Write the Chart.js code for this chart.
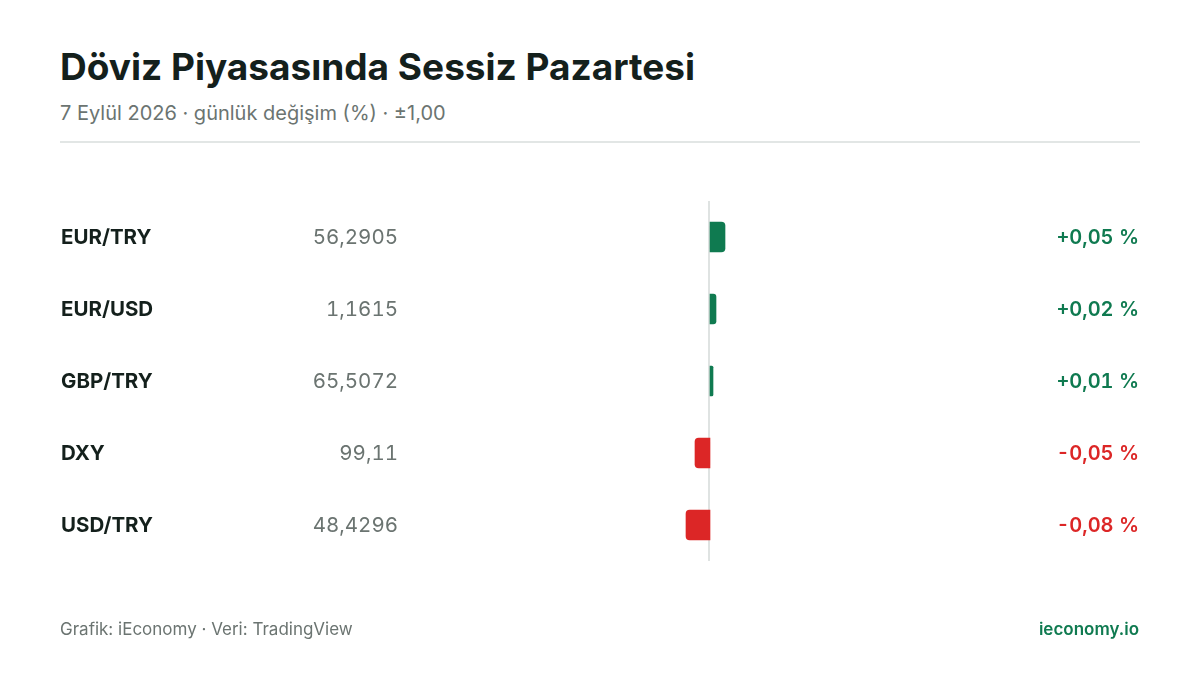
<!DOCTYPE html>
<html lang="tr">
<head>
<meta charset="utf-8">
<script src="https://cdn.jsdelivr.net/npm/chart.js@4"></script>
<style>
  html, body { margin: 0; padding: 0; background: #fff; }
  body { width: 1200px; height: 675px; position: relative; overflow: hidden; font-family: Inter, "Noto Sans", sans-serif; }
  #title { position: absolute; left: 60px; top: 44px; font-size: 37px; font-weight: 700; color: #14201c; }
  #subtitle { position: absolute; left: 60px; top: 101px; font-size: 20px; color: #6b7471; }
  #rule { position: absolute; left: 60px; top: 141px; width: 1080px; height: 2px; background: #e2e6e5; }
  #source { position: absolute; left: 60px; top: 619px; font-size: 17px; color: #6b7471; }
  #brand { position: absolute; right: 61px; top: 619px; font-size: 17px; font-weight: 600; color: #0f7a50; }
  #chart { position: absolute; left: 0; top: 0; font-variant-numeric: tabular-nums; }
</style>
</head>
<body>
<div id="title">Döviz Piyasasında Sessiz Pazartesi</div>
<div id="subtitle">7 Eylül 2026 · günlük değişim (%) · ±1,00</div>
<div id="rule"></div>
<canvas id="chart" width="1200" height="675"></canvas>
<div id="source">Grafik: iEconomy · Veri: TradingView</div>
<div id="brand">ieconomy.io</div>
<script>
// rows, top to bottom
const pairs = ['EUR/TRY', 'EUR/USD', 'GBP/TRY', 'DXY', 'USD/TRY'];
const prices = ['56,2905', '1,1615', '65,5072', '99,11', '48,4296'];
const changes = [0.05, 0.02, 0.01, -0.05, -0.08];
const axisMin = -1;
const axisMax = 1;

const GREEN = '#0f7a50';
const RED = '#dc2626';

function fmtChange(v) {
  return (v >= 0 ? '+' : '-') + Math.abs(v).toFixed(2).replace('.', ',') + ' %';
}

// zero line behind the bars
const zeroLine = {
  id: 'zeroLine',
  beforeDatasetsDraw(chart) {
    const {ctx, chartArea, scales} = chart;
    const x = scales.x.getPixelForValue(0);
    ctx.save();
    ctx.strokeStyle = '#dfe3e2';
    ctx.lineWidth = 2;
    ctx.beginPath();
    ctx.moveTo(x - 1, chartArea.top);
    ctx.lineTo(x - 1, chartArea.bottom);
    ctx.stroke();
    ctx.restore();
  }
};

// row texts: pair name, last price, change
const rowLabels = {
  id: 'rowLabels',
  afterDatasetsDraw(chart) {
    const {ctx, scales} = chart;
    ctx.save();
    ctx.textBaseline = 'middle';
    pairs.forEach((p, i) => {
      const y = scales.y.getPixelForValue(i) + 1;
      ctx.font = '700 20.5px Inter, "Noto Sans", sans-serif';
      ctx.fillStyle = '#14201c';
      ctx.textAlign = 'left';
      ctx.fillText(p, 61, y);

      ctx.font = '400 20.5px Inter, "Noto Sans", sans-serif';
      ctx.fillStyle = '#6b7471';
      ctx.textAlign = 'right';
      ctx.fillText(prices[i], 398, y);

      ctx.font = '600 20px Inter, "Noto Sans", sans-serif';
      ctx.fillStyle = changes[i] >= 0 ? GREEN : RED;
      ctx.fillText(fmtChange(changes[i]), 1139, y);
    });
    ctx.restore();
  }
};

new Chart(document.getElementById('chart'), {
  type: 'bar',
  data: {
    labels: pairs,
    datasets: [{
      data: changes,
      backgroundColor: changes.map(v => v >= 0 ? GREEN : RED),
      barThickness: 30,
      borderRadius: 4,
      borderSkipped: 'start'
    }]
  },
  options: {
    indexAxis: 'y',
    responsive: false,
    animation: false,
    devicePixelRatio: 1,
    layout: {padding: {left: 410, right: 190, top: 201, bottom: 114}},
    plugins: {legend: {display: false}, tooltip: {enabled: false}},
    scales: {
      x: {display: false, min: axisMin, max: axisMax},
      y: {display: false}
    }
  },
  plugins: [zeroLine, rowLabels]
});
</script>
</body>
</html>
